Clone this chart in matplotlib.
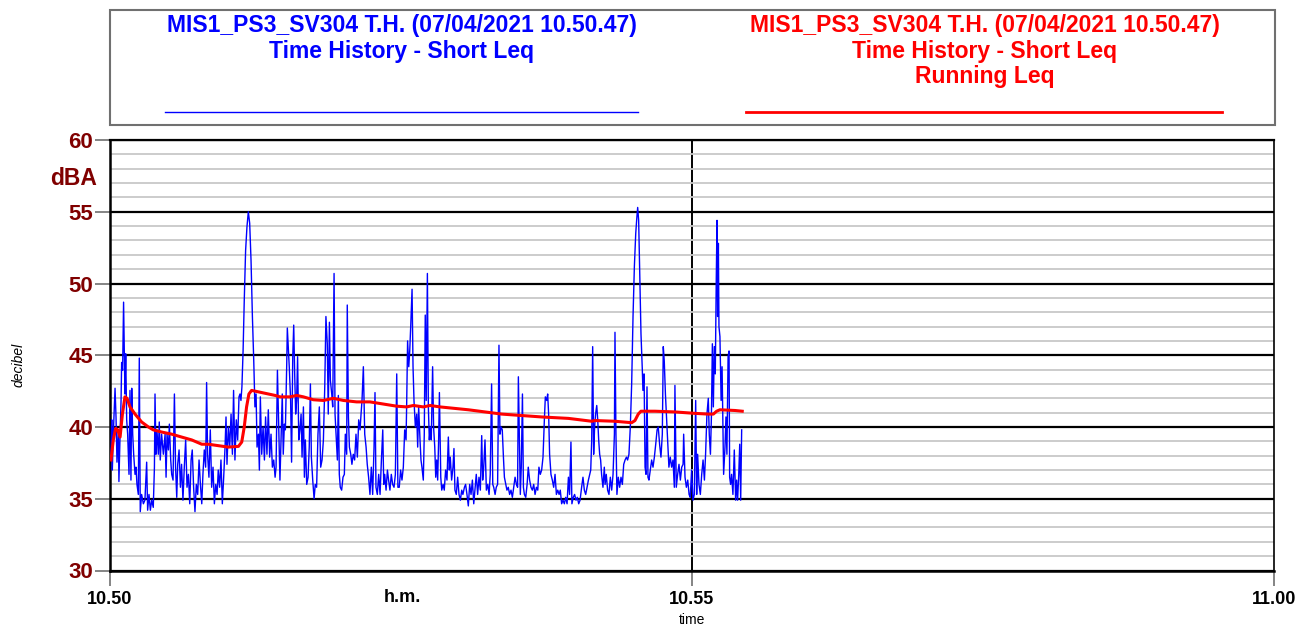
import matplotlib
matplotlib.use("Agg")
import matplotlib.pyplot as plt
from matplotlib.lines import Line2D
from matplotlib.patches import Rectangle
import numpy as np

# ---------------- data ----------------
# Short Leq time history: time in seconds after 10.50, level in dBA
short_t = [
    0.5, 0.9, 1.2, 1.7, 2.6, 3.1, 3.6, 4.3, 4.6, 5.2, 5.7, 6.0, 6.5, 7.0, 7.4, 7.7, 8.1, 8.6, 9.1, 9.8,
    10.3, 10.8, 11.2, 11.7, 12.2, 12.9, 13.4, 13.9, 14.6, 15.1, 15.6, 16.3, 17.2, 18.0, 18.9, 19.4, 20.1, 20.8,
    21.5, 22.3, 22.9, 23.2, 23.7, 24.2, 24.9, 25.4, 25.9, 26.6, 27.5, 28.4, 28.9, 29.4, 30.1, 30.6, 31.3, 31.8,
    32.5, 33.2, 33.8, 34.4, 34.9, 35.6, 36.3, 36.9, 37.6, 38.3, 39.0, 39.7, 40.4, 41.1, 41.8, 42.4, 43.1, 43.8,
    44.5, 45.2, 45.9, 46.6, 47.3, 47.9, 48.6, 49.3, 49.8, 50.3, 51.0, 51.7, 52.4, 53.1, 53.8, 54.5, 55.2, 55.8,
    56.5, 57.2, 57.9, 58.6, 59.3, 59.8, 60.3, 61.0, 61.7, 62.4, 63.1, 63.7, 64.4, 65.1, 65.8, 66.5, 67.0, 67.5,
    68.0, 68.6, 69.2, 69.9, 70.6, 71.3, 72.0, 72.7, 73.4, 74.1, 74.7, 75.3, 75.8, 76.5, 77.0, 77.5, 78.2, 78.9,
    79.6, 80.2, 80.9, 81.6, 82.3, 83.0, 83.7, 84.4, 85.1,
    85.6, 86.3, 86.9, 87.6, 88.3, 88.8, 89.3, 89.9, 90.4, 91.1, 91.4, 91.9, 92.4, 93.1, 93.6, 94.2, 94.7, 95.2,
    95.7, 96.2, 96.7, 97.3, 97.9, 98.5, 99.0, 99.7, 100.2, 100.7, 101.4, 102.1, 102.7, 103.3, 103.8, 104.5,
    105.2, 105.8, 106.5, 107.2, 107.9, 108.6, 109.3, 110.0, 110.7, 111.3, 112.0, 112.5, 113.1, 113.6, 114.3,
    114.8, 115.5, 116.0, 116.5, 117.2, 117.7, 118.2, 118.7, 119.4, 120.1, 120.8, 121.3, 122.0, 122.3, 122.9,
    123.4, 124.1, 124.7, 125.4, 126.1, 126.8, 127.5, 128.2, 128.9, 129.4, 129.9, 130.6, 131.3, 132.0, 132.6,
    133.3, 134.0, 134.7, 135.4, 136.1, 136.6, 137.1, 137.8, 138.5, 139.2, 139.9, 140.6, 141.1, 141.6, 142.3,
    143.0, 143.6, 144.3, 145.0, 145.7, 146.4, 147.1, 147.8, 148.4, 149.1, 149.8, 150.5, 151.2, 151.9, 152.6,
    152.9, 153.4, 154.0, 154.5, 155.0, 155.7, 156.2, 156.7, 157.4, 158.1, 158.6, 159.1, 159.8, 160.3, 160.8,
    161.5, 162.0, 162.5, 163.0, 163.6, 164.1, 164.6, 165.1, 165.6, 166.3, 166.8, 167.4, 167.9, 168.4, 168.9,
    169.4, 169.8,
    170.5, 171.0, 171.7, 172.3, 173.0, 173.7, 174.4, 174.9, 175.4, 176.1, 176.8, 177.3, 177.8, 178.5, 179.2,
    179.9, 180.6, 181.3, 181.9, 182.7, 183.3, 184.0, 184.7, 185.4, 186.1, 186.8, 187.5, 188.1, 188.8, 189.5,
    190.2, 190.9, 191.6, 192.1, 192.6, 193.3, 194.0, 194.7, 195.4, 196.0, 196.7, 197.3, 197.8, 198.5, 199.1,
    199.8, 200.5, 201.0, 201.6, 202.2, 202.8, 203.3, 204.0, 204.6, 205.3, 206.0, 206.7, 207.4, 208.1, 208.8,
    209.5, 210.1, 210.5, 211.0, 211.5, 212.0, 212.6, 213.1, 213.6, 214.3, 215.0, 215.6, 216.3, 217.0, 217.7,
    218.4, 219.1, 219.8, 220.5, 221.1, 221.8, 222.5, 223.2, 223.9, 224.4, 225.1, 225.6, 226.1, 226.6, 227.3,
    228.0, 228.7, 229.4, 230.1, 230.8, 231.5, 232.1, 232.8, 233.5, 234.2, 234.9, 235.6, 236.3, 236.9, 237.6,
    238.1, 238.8, 239.5, 240.2, 240.9, 241.6, 242.3, 243.1, 243.8, 244.5, 245.2, 245.9, 246.6, 247.3, 247.8,
    248.3, 248.8, 249.3, 249.8, 250.3, 250.9, 251.4, 251.9, 252.4, 252.9, 253.4, 254.1, 254.8,
    255.2, 255.8, 256.5, 257.2, 257.9, 258.6, 259.3, 260.0, 260.3, 260.8, 261.3, 262.0, 262.7, 263.4, 264.1,
    264.8, 265.5, 266.2, 266.8, 267.5, 268.2, 268.9, 269.6, 270.3, 271.0, 271.6, 272.0, 272.5, 273.0, 273.7,
    274.4, 274.7, 275.3, 275.8, 276.3, 276.8, 277.3, 277.8, 278.5, 279.2, 279.9, 280.6, 281.3, 282.0, 282.6,
    283.3, 284.0, 284.7, 285.2, 285.7, 286.3, 286.8, 287.5, 288.1, 288.8, 289.5, 290.2, 290.9, 291.2, 291.9,
    292.6, 293.3, 294.0, 294.7, 295.4, 295.7, 296.4, 297.1, 297.8, 298.5, 299.1, 299.8, 300.5, 301.2, 301.9,
    302.4, 302.9, 303.6, 304.3, 305.0, 305.7, 306.4, 307.0, 307.7, 308.4, 308.9, 309.5, 310.0, 310.5, 311.0,
    311.5, 312.0, 312.5, 312.9, 313.2, 313.6, 313.9, 314.4, 315.0, 315.5, 316.0, 316.3, 317.0, 317.5, 318.0,
    318.6, 319.1, 319.4, 319.9, 320.4, 321.1, 321.8, 322.5, 323.0, 323.5, 324.1, 324.6, 325.1, 325.6,
]
short_leq = [
    38.0, 40.5, 37.0, 39.5, 42.7, 40.7, 37.55, 39.8, 36.2, 39.5, 41.85, 44.5, 43.95, 48.7, 45.3, 42.3, 45.1, 40.5, 39.5, 36.7,
    42.55, 36.3, 42.7, 39.5, 38.1, 36.7, 37.2, 36.0, 35.3, 44.8, 34.1, 35.3, 34.65, 34.9, 37.55, 34.2, 35.3, 34.2,
    34.9, 34.4, 37.2, 42.3, 38.1, 39.8, 38.1, 40.35, 37.7, 39.5, 38.1, 39.5, 36.5, 39.5, 38.4, 40.2, 37.7, 36.7,
    36.3, 42.3, 37.2, 35.1, 37.4, 38.4, 35.8, 37.4, 34.9, 37.2, 39.1, 35.8, 36.7, 34.65, 37.7, 38.4, 35.8, 34.1,
    36.0, 35.3, 37.7, 36.0, 34.65, 36.7, 38.4, 37.2, 43.1, 38.1, 36.5, 39.8, 35.8, 37.2, 34.65, 36.0, 35.3, 37.0,
    35.8, 37.7, 34.65, 36.5, 38.6, 40.7, 37.4, 40.0, 38.6, 40.9, 38.1, 42.55, 37.7, 40.5, 39.1, 42.1, 42.3, 41.85,
    42.8, 45.3, 48.8, 52.3, 53.95, 55.0, 54.2, 51.6, 47.7, 44.6, 41.4, 42.3, 38.6, 39.5, 37.0, 42.1, 38.1, 40.0,
    37.7, 40.7, 38.1, 41.2, 37.9, 39.5, 37.2, 37.7, 36.5,
    37.2, 43.95, 40.5, 36.3, 39.8, 42.3, 38.1, 40.2, 39.8, 44.4, 46.9, 45.6, 44.2, 41.85, 37.55, 44.9, 47.1, 43.7,
    40.9, 41.85, 44.9, 39.1, 39.8, 40.9, 37.9, 41.4, 36.5, 39.1, 36.0, 36.5, 38.6, 43.0, 37.9, 36.3,
    35.0, 36.0, 35.8, 39.5, 41.4, 37.2, 37.7, 39.1, 42.8, 47.7, 45.8, 40.9, 47.3, 43.25, 42.3,
    41.4, 50.7, 40.9, 39.5, 37.7, 42.2, 36.7, 35.8, 35.6, 36.5, 36.7, 39.5, 38.1, 48.5, 40.7,
    38.6, 38.1, 37.4, 38.1, 37.7, 39.5, 37.9, 40.5, 39.8, 40.9, 41.85, 44.2, 39.5, 38.6, 37.4,
    36.5, 35.3, 37.2, 35.3, 38.6, 42.4, 35.8, 35.3, 36.7, 35.3, 37.7, 39.8, 36.0, 36.7, 35.6,
    37.0, 36.3, 35.6, 36.7, 36.0, 35.8, 36.7, 43.7, 35.8, 35.8, 37.0, 36.3, 37.2, 39.8, 39.1,
    41.4, 46.0, 44.2, 45.3, 47.0, 49.6, 44.2, 41.85, 40.0, 40.9, 38.6, 41.4, 39.1, 37.7, 37.2,
    36.3, 39.5, 47.8, 41.85, 50.7, 41.4, 39.1, 40.0, 39.1, 44.2, 40.0, 38.6, 36.5, 37.7, 36.3,
    39.1, 42.4,
    36.5, 35.6, 36.0, 35.6, 37.0, 36.3, 39.3, 37.0, 37.9, 36.3, 37.2, 38.5, 35.6, 35.3, 36.5,
    35.3, 34.9, 35.6, 35.3, 35.8, 36.0, 35.3, 34.5, 36.0, 35.3, 36.3, 34.65, 35.6, 36.7, 35.3,
    36.5, 35.6, 39.4, 36.3, 37.1, 39.1, 35.6, 36.0, 35.3, 36.7, 43.0, 36.0, 35.8, 35.3, 35.8,
    36.0, 45.7, 39.5, 40.0, 39.8, 37.9, 36.5, 36.0, 35.6, 35.8, 35.3, 35.6, 35.1, 35.8, 36.5,
    36.0, 35.8, 43.5, 39.5, 35.3, 37.2, 42.3, 35.8, 35.3, 35.1, 36.0, 37.2, 36.3, 35.8, 35.6,
    36.0, 35.3, 35.8, 35.6, 37.2, 36.7, 37.0, 37.9, 40.5, 42.1, 41.85, 42.3, 40.9, 38.1, 36.7,
    36.3, 35.8, 36.7, 35.3, 35.6, 35.3, 35.6, 34.65, 34.9, 34.65, 35.1, 34.65, 36.5, 35.3, 38.95,
    34.65, 35.1, 35.3, 34.9, 35.1, 34.65, 34.9, 35.8, 36.5, 35.6, 35.3, 35.8, 36.3, 36.7, 37.0,
    39.1, 45.6, 38.1, 40.0, 40.9, 41.5, 40.5, 39.1, 38.1, 37.7, 36.7, 35.8, 37.2,
    36.0, 36.7, 35.6, 35.3, 36.5, 35.6, 36.7, 39.5, 46.6, 39.5, 35.3, 36.5, 35.8, 36.5, 36.0,
    37.4, 37.7, 37.9, 37.7, 38.1, 40.0, 43.0, 47.7, 51.2, 53.5, 54.65, 55.3, 54.4, 51.2, 46.5,
    43.95, 42.55, 43.7, 37.2, 36.7, 42.8, 36.5, 36.3, 37.0, 37.7, 37.2, 37.9, 38.8, 39.8, 40.0,
    38.8, 37.9, 39.5, 45.6, 44.6, 42.3, 40.9, 38.8, 37.2, 37.9, 37.2, 37.7, 35.8, 42.9, 35.8,
    36.7, 37.4, 36.3, 37.2, 37.4, 39.5, 36.5, 35.8, 36.3, 35.3, 35.1, 37.0, 34.9, 35.3, 41.85,
    35.3, 38.1, 36.0, 35.3, 36.7, 37.7, 36.3, 38.1, 40.9, 42.0, 39.5, 38.1, 40.7, 45.8, 41.4,
    45.6, 43.7, 50.2, 54.4, 47.7, 52.8, 47.0, 46.3, 41.85, 44.2, 39.5, 36.7, 38.6, 40.7, 38.1,
    44.9, 45.3, 36.5, 36.0, 36.7, 35.3, 38.4, 34.9, 36.3, 34.9, 36.7, 38.8, 34.9, 39.8,
]

# Running Leq
run_t = [
    0.5, 1.7, 2.9, 4.0, 5.2, 6.4, 7.7, 8.8, 10.3, 12.9, 16.3, 19.8, 22.3, 26.6, 31.8, 36.9, 42.1, 47.3,
    50.7, 55.8, 61.0, 66.2, 67.9, 69.2, 70.4, 71.6, 73.0, 78.2, 85.1, 87.6, 92.8, 96.2, 99.7, 104.8,
    110.0, 115.1, 120.3, 127.1, 134.0, 140.9, 147.8, 152.9, 156.4, 161.5, 165.0, 170.1, 184.7, 201.9,
    212.2, 222.5, 236.3, 248.3, 250.0, 260.3, 268.9, 270.6, 272.3, 273.7, 280.9, 291.2, 301.5, 308.4,
    311.0, 312.7, 314.4, 322.2, 325.9,
]
run_leq = [
    37.7, 39.1, 39.9, 39.8, 39.3, 40.9, 42.1, 42.0, 41.4, 40.9, 40.35, 40.0, 39.8, 39.65, 39.5, 39.3, 39.1, 38.8,
    38.8, 38.7, 38.6, 38.65, 38.95, 40.0, 41.4, 42.3, 42.55, 42.4, 42.2, 42.1, 42.1, 42.2, 42.1, 41.9,
    41.85, 42.0, 41.85, 41.75, 41.75, 41.6, 41.45, 41.4, 41.5, 41.4, 41.5, 41.4, 41.2, 40.9,
    40.8, 40.7, 40.6, 40.4, 40.45, 40.4, 40.3, 40.45, 40.9, 41.1, 41.1, 41.05, 40.95, 40.9,
    40.9, 41.1, 41.2, 41.15, 41.1,
]

x_ticks = [0, 300, 600]
x_tick_labels = ["10.50", "10.55", "11.00"]
y_ticks = [30, 35, 40, 45, 50, 55, 60]

title_lines = "MIS1_PS3_SV304 T.H. (07/04/2021 10.50.47)\nTime History - Short Leq"
title_lines_run = "MIS1_PS3_SV304 T.H. (07/04/2021 10.50.47)\nTime History - Short Leq\nRunning Leq"

# ---------------- figure ----------------
plt.rcParams['font.family'] = ['Liberation Sans', 'DejaVu Sans']
W, H = 1301, 628
fig = plt.figure(figsize=(W / 100, H / 100), dpi=100)

def fx(x):
    return x / W

def fy(y):
    return 1 - y / H

ax = fig.add_axes([fx(110), fy(570.5), fx(1274) - fx(110), fy(140) - fy(570.5)])
ax.set_xlim(0, 600)
ax.set_ylim(30, 60)

# grid
ax.set_yticks(y_ticks)
ax.set_yticks(np.arange(30, 61, 1), minor=True)
ax.grid(which='minor', axis='y', color='#c8c8c8', lw=1.3, zorder=0)
ax.grid(which='major', axis='y', color='black', lw=1.6, zorder=1)
ax.axvline(300, color='black', lw=1.4, zorder=1)

ax.plot(short_t, short_leq, color='#0000ff', lw=1.0, zorder=3)
ax.plot(run_t, run_leq, color='#ff0000', lw=2.2, zorder=4)

ax.set_yticklabels([str(v) for v in y_ticks], color='#800000', fontweight='bold', fontsize=16)
ax.set_xticks(x_ticks)
ax.set_xticklabels(x_tick_labels, color='black', fontweight='bold', fontsize=13)
ax.tick_params(axis='y', which='major', length=11, width=1.2, color='#707070', pad=1)
ax.tick_params(axis='y', which='minor', length=0)
ax.tick_params(axis='x', which='major', length=11, width=1.2, color='#707070', pad=4)

for side in ['left', 'bottom']:
    ax.spines[side].set_linewidth(1.8)
    ax.spines[side].set_color('black')
ax.spines['right'].set_linewidth(1.2)
ax.spines['top'].set_linewidth(1.6)

# axis annotations
fig.text(fx(97), fy(178), "dBA", color='#800000', fontweight='bold', fontsize=16.5, ha='right', va='center')
fig.text(fx(19), fy(365), "decibel", fontstyle='italic', fontsize=10, rotation=90, ha='center', va='center')
fig.text(fx(402), fy(598), "h.m.", fontweight='bold', fontsize=13, ha='center', va='center')
fig.text(fx(692), fy(620), "time", fontsize=10, ha='center', va='center')

# legend box
fig.patches.append(Rectangle((fx(110), fy(125)), fx(1275) - fx(110), fy(10) - fy(125),
                             transform=fig.transFigure, fill=False, edgecolor='#707070', lw=1.5))
fig.text(fx(402), fy(14), title_lines, color='#0000ff', fontweight='bold', fontsize=16.5,
         ha='center', va='top', linespacing=1.14)
fig.text(fx(985), fy(14), title_lines_run, color='#ff0000', fontweight='bold', fontsize=16.5,
         ha='center', va='top', linespacing=1.14)
fig.lines.append(Line2D([fx(165), fx(638)], [fy(112), fy(112)], transform=fig.transFigure,
                        color='#0000ff', lw=1.0))
fig.lines.append(Line2D([fx(746), fx(1222)], [fy(112), fy(112)], transform=fig.transFigure,
                        color='#ff0000', lw=2.0))

fig.savefig("out.png", dpi=100)
